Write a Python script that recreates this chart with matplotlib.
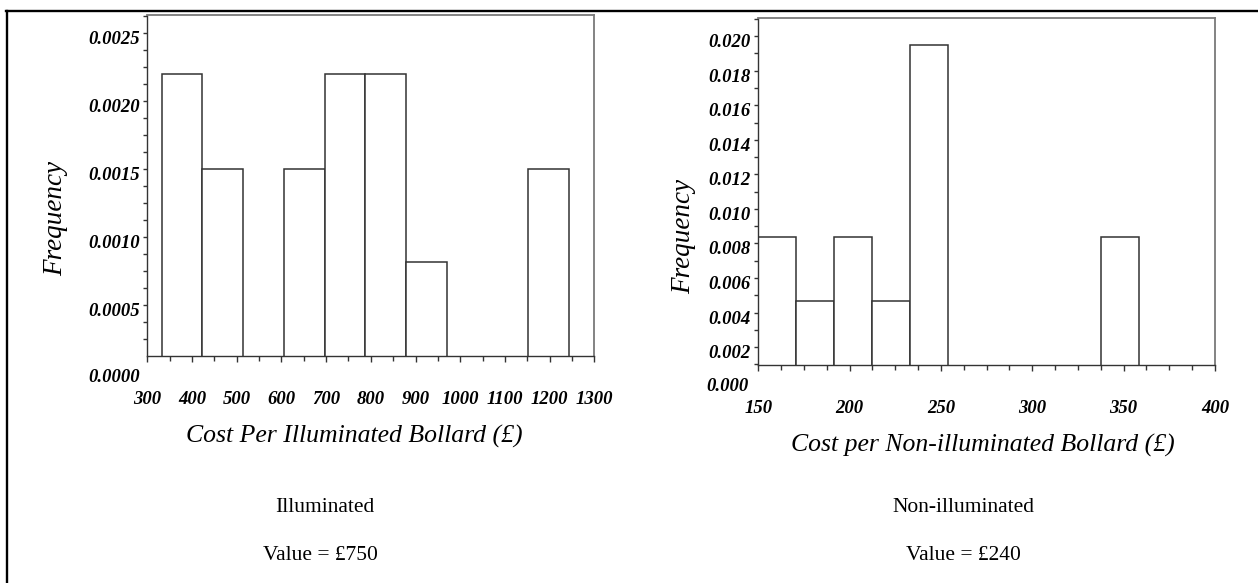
import matplotlib
matplotlib.use("Agg")
import matplotlib.pyplot as plt
import matplotlib.transforms as mtransforms
from matplotlib.lines import Line2D
from matplotlib.ticker import FixedLocator, MultipleLocator

# --- data ---
illum_edges = [332, 423, 514, 605, 697, 788, 879, 970, 1061, 1152, 1243]
illum_freq = [0.0022, 0.0015, 0.0, 0.0015, 0.0022, 0.0022, 0.00082, 0.0, 0.0, 0.0015]
illum_yticks = [0.0005, 0.0010, 0.0015, 0.0020, 0.0025]
illum_ylabels = ["0.0005", "0.0010", "0.0015", "0.0020", "0.0025"]
illum_xticks = [300, 400, 500, 600, 700, 800, 900, 1000, 1100, 1200, 1300]

non_edges = [150, 170.8, 191.6, 212.4, 233.2, 254, 274.8, 295.6, 316.4, 337.4, 358.2]
non_freq = [0.0084, 0.0047, 0.0084, 0.0047, 0.0195, 0.0, 0.0, 0.0, 0.0, 0.0084]
non_yticks = [0.002, 0.004, 0.006, 0.008, 0.010, 0.012, 0.014, 0.016, 0.018, 0.020]
non_ylabels = ["0.002", "0.004", "0.006", "0.008", "0.010",
               "0.012", "0.014", "0.016", "0.018", "0.020"]
non_xticks = [150, 200, 250, 300, 350, 400]

W, H = 1258, 583
SERIF = "Liberation Serif"
DARK = "#333333"
GREY = "#7a7a7a"


def box(x0, ytop, x1, ybot):
    return [x0 / W, 1 - ybot / H, (x1 - x0) / W, (ybot - ytop) / H]


fig = plt.figure(figsize=(W / 100, H / 100), dpi=100)
fig.patch.set_facecolor("white")

# outer table-like frame (top and left only are visible)
fig.add_artist(Line2D([6.5 / W, 1], [1 - 10.5 / H, 1 - 10.5 / H], color="black", lw=1.7))
fig.add_artist(Line2D([7 / W, 7 / W], [0, 1 - 10.5 / H], color="black", lw=1.7))


def histo(ax, edges, freq, xlim, ylim, xticks, xminor, yticks, ylabels, yminor,
          zero_label, zero_x, xlabel, xlabel_pos, ylabel_pos):
    widths = [b - a for a, b in zip(edges[:-1], edges[1:])]
    ax.bar(edges[:-1], freq, width=widths, align="edge", color="white",
           edgecolor=DARK, linewidth=1.1)
    ax.set_xlim(*xlim)
    ax.set_ylim(*ylim)

    ax.xaxis.set_major_locator(FixedLocator(xticks))
    ax.xaxis.set_minor_locator(MultipleLocator(xminor))
    ax.set_xticks(xticks)
    ax.set_xticklabels([str(v) for v in xticks])
    ax.yaxis.set_major_locator(FixedLocator(yticks))
    ax.set_yticks(yticks)
    ax.set_yticklabels(ylabels)
    ax.yaxis.set_minor_locator(MultipleLocator(yminor))

    for side in ("left", "bottom"):
        ax.spines[side].set_color(DARK)
        ax.spines[side].set_linewidth(1.0)
    for side in ("top", "right"):
        ax.spines[side].set_color(GREY)
        ax.spines[side].set_linewidth(1.3)

    ax.tick_params(axis="x", which="major", direction="out", length=4.5, width=1,
                   color=DARK, pad=21)
    ax.tick_params(axis="x", which="minor", direction="out", length=3.4, width=1,
                   color=DARK)
    ax.tick_params(axis="y", which="both", direction="out", length=3, width=1,
                   color=DARK, pad=2.5)
    ax.tick_params(top=False, right=False)

    tick_font = dict(family=SERIF, weight="bold", style="italic", size=13.5)
    for lbl in ax.get_xticklabels() + ax.get_yticklabels():
        lbl.set_fontproperties(matplotlib.font_manager.FontProperties(**tick_font))
    offset = mtransforms.ScaledTranslation(0, -0.045, fig.dpi_scale_trans)
    for lbl in ax.get_yticklabels():
        lbl.set_transform(lbl.get_transform() + offset)

    # zero label sits below the visible axis range
    trans = mtransforms.blended_transform_factory(ax.transAxes, ax.transData) + offset
    ax.text(zero_x, 0.0, zero_label, transform=trans, ha="right", va="center",
            clip_on=False, **tick_font)

    ax.set_xlabel(xlabel, family=SERIF, style="italic", size=18.5)
    ax.xaxis.set_label_coords(*xlabel_pos)
    ax.xaxis.label.set_va("center")
    ax.set_ylabel("Frequency", family=SERIF, style="italic", size=19.5)
    ax.yaxis.set_label_coords(*ylabel_pos)
    ax.yaxis.label.set_va("center")


ax1 = fig.add_axes(box(147.3, 15, 594.3, 356))
histo(ax1, illum_edges, illum_freq, (300, 1300), (0.000127, 0.002634),
      illum_xticks, 50, illum_yticks, illum_ylabels, 0.000125,
      "0.0000", -0.0163, "Cost Per Illuminated Bollard (\u00a3)",
      ((354.5 - 147.3) / 447, -(436 - 356) / 341),
      ((56 - 147.3) / 447, (356 - 218) / 341))

ax2 = fig.add_axes(box(758.3, 18.3, 1215, 365))
histo(ax2, non_edges, non_freq, (150, 400), (0.00097, 0.02103),
      non_xticks, 12.5, non_yticks, non_ylabels, 0.001,
      "0.000", -0.0204, "Cost per Non-illuminated Bollard (\u00a3)",
      ((982.5 - 758.3) / 456.7, -(445 - 365) / 346.7),
      ((684 - 758.3) / 456.7, (365 - 237) / 346.7))

text_kw = dict(family=SERIF, size=15.5, ha="center", va="center")
fig.text(325 / W, 1 - 507 / H, "Illuminated", **text_kw)
fig.text(320 / W, 1 - 555 / H, "Value = \u00a3750", **text_kw)
fig.text(963 / W, 1 - 507 / H, "Non-illuminated", **text_kw)
fig.text(963 / W, 1 - 555 / H, "Value = \u00a3240", **text_kw)

fig.savefig("out.png", dpi=100)
